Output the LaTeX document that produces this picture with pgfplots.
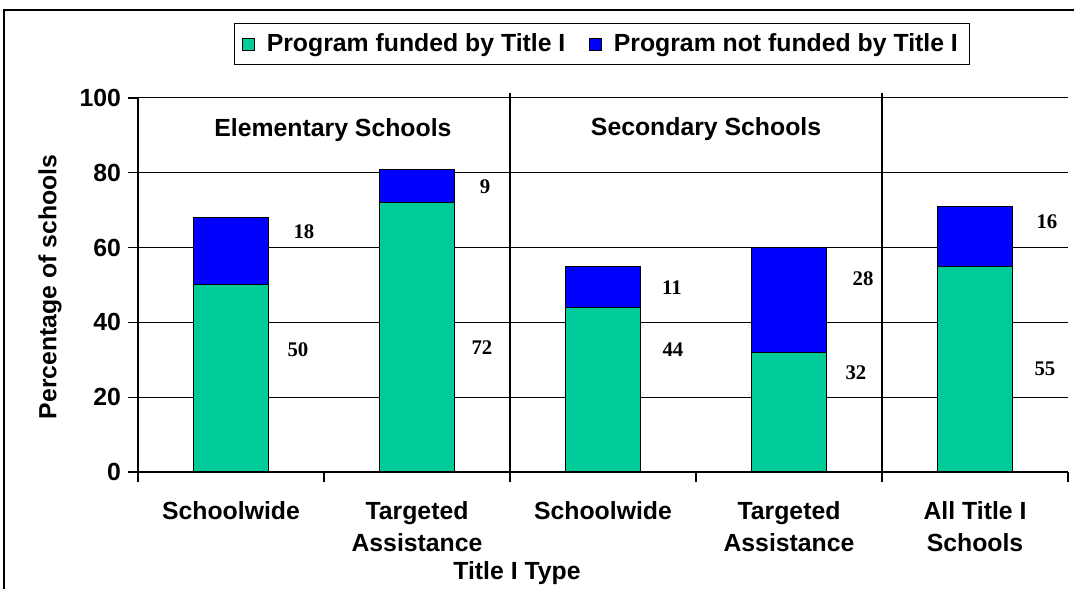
\documentclass[border=0pt]{standalone}
\usepackage{pgfplots}
\pgfplotsset{compat=1.18}
\usepackage{fontspec}
\setmainfont{Liberation Sans}
\newfontfamily\serifb{Liberation Serif}
\definecolor{fgreen}{RGB}{0,204,153}
\definecolor{fblue}{RGB}{0,0,255}
\newcommand{\sfb}{\fontsize{12.4}{16}\selectfont\bfseries}
\newcommand{\lab}{\serifb\fontsize{10.4}{12}\selectfont\bfseries}
\begin{document}
\begin{tikzpicture}
\useasboundingbox (0,0) rectangle (537pt,294pt);
\fill[white] (0,0) rectangle (537pt,294pt);
\draw[line width=1pt] (2pt,-10pt) -- (2pt,289pt) -- (560pt,289pt);
\begin{axis}[
  at={(69pt,58pt)}, anchor=south west,
  scale only axis, width=465pt, height=187pt,
  ybar stacked, bar width=37.5pt,
  xmin=-0.5, xmax=4.5, ymin=0, ymax=100,
  clip=false,
  axis lines*=left,
  axis line style={line width=0.6pt, black},
  xtick={-0.5,0.5,1.5,2.5,3.5,4.5},
  xticklabels={},
  extra x ticks={0,1,2,3,4},
  extra x tick labels={Schoolwide, {Targeted\\Assistance}, Schoolwide, {Targeted\\Assistance}, {All Title I\\Schools}},
  extra x tick style={major tick length=0pt, tick label style={yshift=-11pt}},
  x tick label style={align=center, font=\sfb},
  ytick={0,20,40,60,80,100},
  y tick label style={font=\sfb},
  /pgf/number format/assume math mode=true,
  ymajorgrids,
  major grid style={line width=0.5pt, black},
  tick style={black, line width=0.6pt},
  tick align=outside,
  major tick length=5pt,
  xlabel={Title I Type},
  xlabel style={at={(axis description cs:0.4075,-0.27)}, anchor=center, font=\sfb},
  ylabel={Percentage of schools},
  ylabel style={at={(axis description cs:-0.0946,0.495)}, anchor=center, font=\sfb},
  legend columns=2,
  legend style={at={(axis description cs:0.499,1.144)}, anchor=center, draw=black, line width=0.6pt, font=\sfb,
    /tikz/every even column/.append style={column sep=10pt}, inner xsep=4pt, inner ysep=3pt, cells={anchor=west}},
  legend image code/.code={\draw[#1, line width=0.5pt] (0pt,-3pt) rectangle (6pt,3pt); \path[draw=none, fill=none] (0pt,0pt) -- (10pt,0pt);},
]
\addplot[fill=fgreen, draw=black, line width=0.5pt] coordinates {(0,50) (1,72) (2,44) (3,32) (4,55)};
\addlegendentry{Program funded by Title I}
\addplot[fill=fblue, draw=black, line width=0.5pt] coordinates {(0,18) (1,9) (2,11) (3,28) (4,16)};
\addlegendentry{Program not funded by Title I}
\draw[line width=0.6pt] (axis cs:1.5,0) -- ([yshift=2.5pt]axis cs:1.5,100);
\draw[line width=0.6pt] (axis cs:3.5,0) -- ([yshift=2.5pt]axis cs:3.5,100);
\node[font=\sfb] at (axis cs:0.548,91.4) {Elementary Schools};
\node[font=\sfb] at (axis cs:2.554,91.6) {Secondary Schools};
\node[font=\lab] at (axis cs:0.360,32.6) {50};
\node[font=\lab] at (axis cs:0.392,64.2) {18};
\node[font=\lab] at (axis cs:1.349,33.2) {72};
\node[font=\lab] at (axis cs:1.366,76.2) {9};
\node[font=\lab] at (axis cs:2.376,32.6) {44};
\node[font=\lab] at (axis cs:2.371,49.2) {11};
\node[font=\lab] at (axis cs:3.360,26.5) {32};
\node[font=\lab] at (axis cs:3.398,51.6) {28};
\node[font=\lab] at (axis cs:4.376,27.5) {55};
\node[font=\lab] at (axis cs:4.387,66.8) {16};
\end{axis}
\end{tikzpicture}
\end{document}
